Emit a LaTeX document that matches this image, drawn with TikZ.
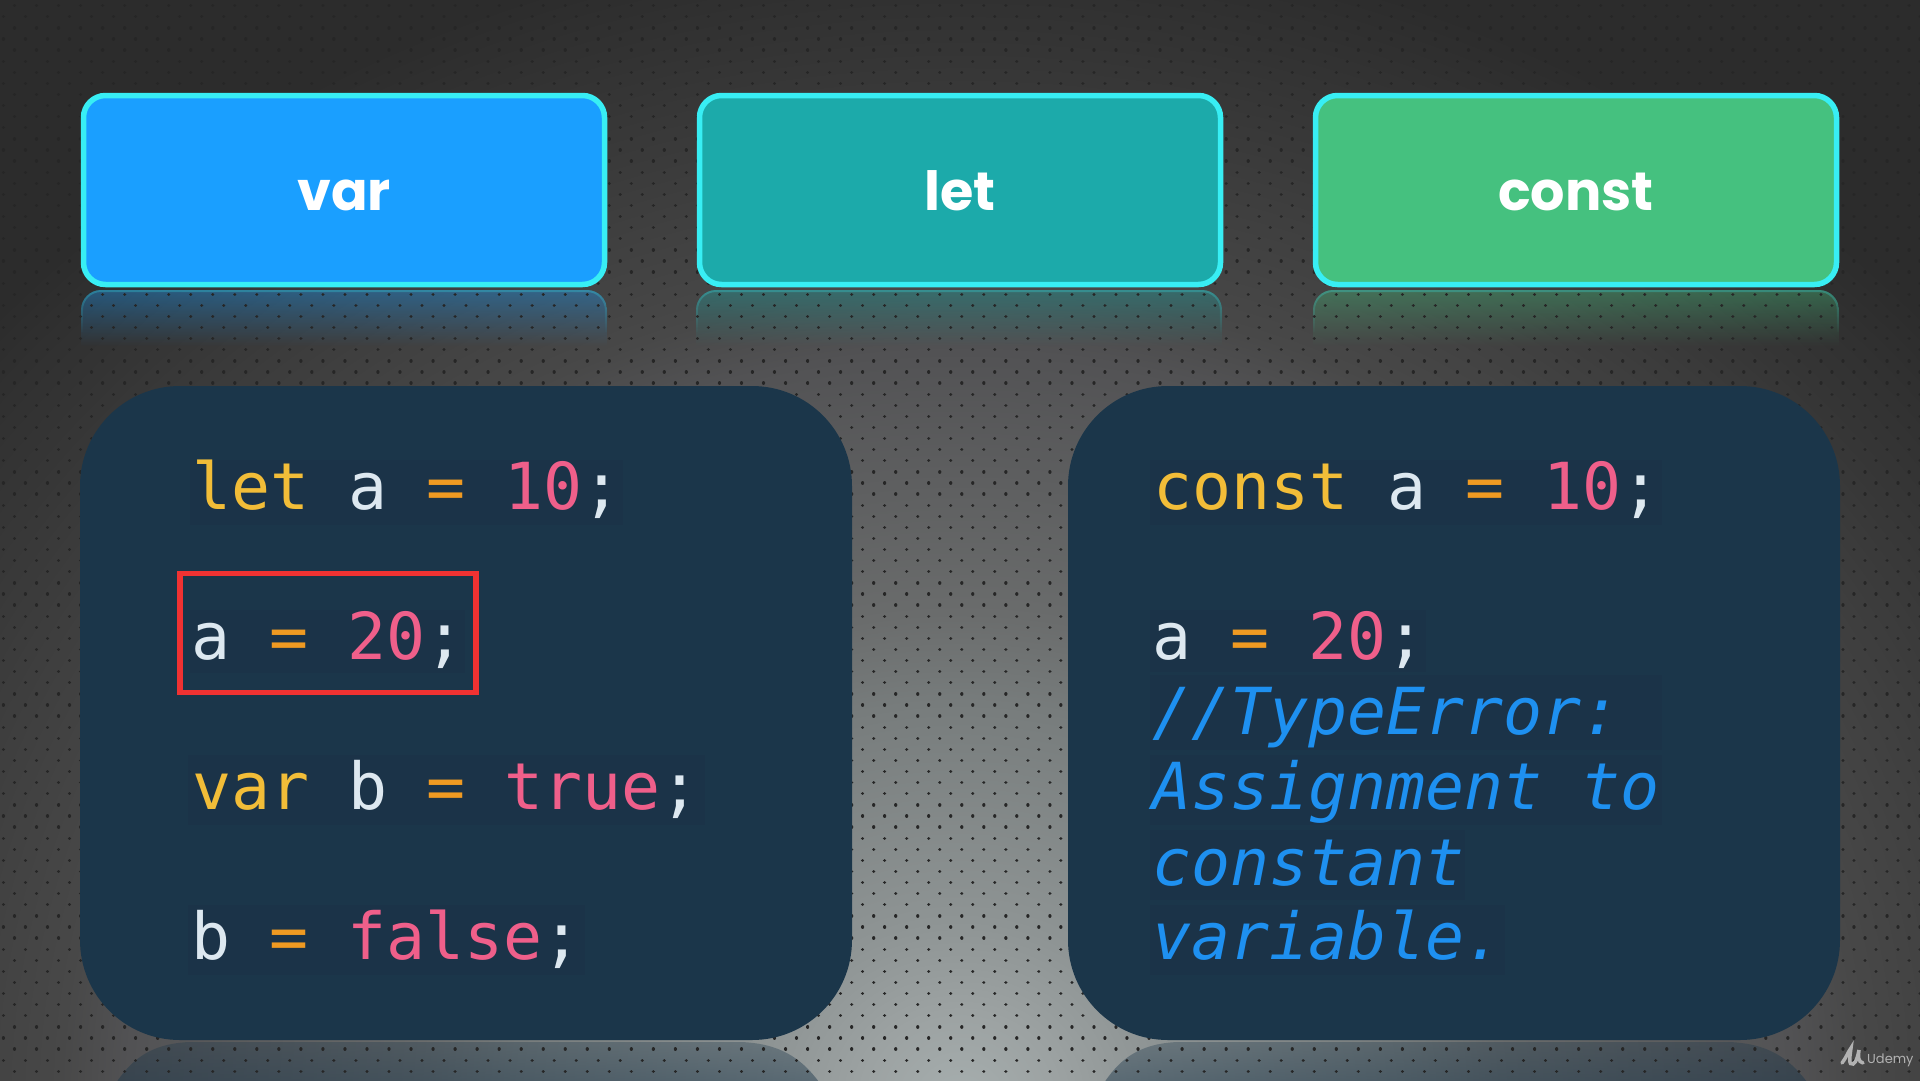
\documentclass[tikz,border=0pt]{standalone}
\usepackage{fontspec}
\usetikzlibrary{fadings}
\setmainfont{Poppins}
\newfontfamily\codefont{DejaVu Sans Mono}
\definecolor{bg0}{HTML}{A6AEAE}
\definecolor{bg1}{HTML}{9CA2A2}
\definecolor{bg2}{HTML}{8E9494}
\definecolor{bg3}{HTML}{777C7C}
\definecolor{bg4}{HTML}{6A6C6C}
\definecolor{bg5}{HTML}{525254}
\definecolor{bg6}{HTML}{484848}
\definecolor{bg7}{HTML}{333333}
\definecolor{bg8}{HTML}{2C2C2C}
\definecolor{panelc}{HTML}{1B364A}
\definecolor{hlc}{HTML}{1B3348}
\definecolor{cyanedge}{HTML}{38EEF4}
\definecolor{varc}{HTML}{1A9FFF}
\definecolor{letc}{HTML}{1CAAAA}
\definecolor{constc}{HTML}{45C17F}
\definecolor{kw}{HTML}{F2BD38}
\definecolor{eqc}{HTML}{EF9A22}
\definecolor{idc}{HTML}{DDE8F0}
\definecolor{numc}{HTML}{EF5F8A}
\definecolor{cmt}{HTML}{1E90F0}
\definecolor{redbox}{HTML}{F03232}
\pgfdeclareradialshading{bgshade}{\pgfpoint{0bp}{0bp}}{color(0bp)=(bg0);color(1.9bp)=(bg1);color(3.85bp)=(bg2);color(8.5bp)=(bg3);color(10.4bp)=(bg4);color(16bp)=(bg5);color(17.3bp)=(bg6);color(23bp)=(bg7);color(25bp)=(bg8);color(50bp)=(bg8)}
\tikzfading[name=boxfade, top color=transparent!62, bottom color=transparent!100]
\tikzfading[name=edgefade, top color=transparent!72, bottom color=transparent!100]
\tikzfading[name=panelfade, top color=transparent!68, bottom color=transparent!45]
\tikzset{
  headbox/.style={draw=cyanedge, line width=5.5pt, rounded corners=22pt, minimum width=521pt, minimum height=189pt, inner sep=0pt, text=white, text height=40pt, text depth=0pt, font=\fontsize{54}{54}\selectfont\bfseries},
  panelbox/.style={fill=panelc, rounded corners=100pt, minimum width=772pt, minimum height=654pt, inner sep=0pt},
  code/.style={anchor=base west, inner sep=0pt, font=\fontsize{64.8}{64.8}\codefont},
  comment/.style={code, text=cmt, font=\fontsize{64.8}{64.8}\codefont\itshape},
  hl/.style={fill=hlc},
  dotrow/.style={black!85, line width=3.3pt, line cap=round, dash pattern=on 0.01pt off 22.02pt}
}
\newcommand{\K}[1]{\textcolor{kw}{#1}}
\newcommand{\E}{\textcolor{eqc}{=}}
\newcommand{\I}[1]{\textcolor{idc}{#1}}
\newcommand{\N}[1]{\textcolor{numc}{#1}}
\begin{document}
\begin{tikzpicture}[x=1pt,y=-1pt]
\useasboundingbox (0,0) rectangle (1920,1080);
\begin{scope}
\clip (0,0) rectangle (1920,1080);
\fill[bg8] (0,0) rectangle (1920,1080);
\shade[shading=bgshade] (960,1100) ellipse [x radius=1300, y radius=1170];
% reflections of the header boxes
\foreach \xa/\col in {81/varc,696/letc,1313/constc}{
  \begin{scope}
    \clip[rounded corners=20pt] (\xa,400) -- (\xa,290) -- (\xa+526,290) -- (\xa+526,400) -- cycle;
    \fill[\col, path fading=boxfade] (\xa,289) rectangle (\xa+526,346);
    \draw[cyanedge, line width=4pt, rounded corners=20pt, path fading=edgefade] (\xa,332) -- (\xa,290) -- (\xa+526,290) -- (\xa+526,332);
  \end{scope}
}
% reflections of the panels
\foreach \xa in {80,1068}{
  \fill[panelc, path fading=panelfade] (\xa+26,1100) .. controls (\xa+44,1068) and (\xa+62,1044) .. (\xa+110,1042) -- (\xa+662,1042) .. controls (\xa+712,1044) and (\xa+732,1068) .. (\xa+752,1100) -- cycle;
}
% dot grid
\foreach \r in {0,...,98}{
  \pgfmathsetmacro{\yy}{-5.4+11.1*\r}
  \pgfmathsetmacro{\off}{mod(\r,2)==1 ? 14.5 : 3.4}
  \draw[dotrow] (\off,\yy) -- (1925,\yy);
}
\end{scope}
% headers
\node[headbox, fill=varc] (var) at (344,190) {var};
\node[headbox, fill=letc] (let) at (960,190) {let};
\node[headbox, fill=constc] (const) at (1576,190) {const};
% panels
\node[panelbox] (left) at (466,713) {};
\node[panelbox] (right) at (1454,713) {};
% highlight strips behind code
\fill[hl] (190,460) rectangle (623,525);
\fill[hl] (190,610) rectangle (465,673);
\fill[hl] (188,755) rectangle (705,825);
\fill[hl] (188,905) rectangle (585,975);
\fill[hl] (1150,460) rectangle (1662,525);
\fill[hl] (1150,610) rectangle (1426,672);
\fill[hl] (1150,675) rectangle (1662,750);
\fill[hl] (1150,755) rectangle (1662,825);
\fill[hl] (1150,830) rectangle (1465,900);
\fill[hl] (1150,905) rectangle (1505,975);
% left code
\node[code] (l1) at (192.5,509.5) {\K{let} \I{a} \E{} \N{10}\I{;}};
\node[code] (l2) at (191.5,659.5) {\I{a} \E{} \N{20}\I{;}};
\node[code] (l3) at (192,809.5) {\K{var} \I{b} \E{} \N{true}\I{;}};
\node[code] (l4) at (191.5,959) {\I{b} \E{} \N{false}\I{;}};
\node[draw=redbox, line width=5.5pt, minimum width=296pt, minimum height=119pt, inner sep=0pt] (mark) at (328,633) {};
% right code
\node[code] (r1) at (1153,509.5) {\K{const} \I{a} \E{} \N{10}\I{;}};
\node[code] (r2) at (1152,659.5) {\I{a} \E{} \N{20}\I{;}};
\node[comment] (r3) at (1152,734) {//TypeError:};
\node[comment] (r4) at (1152,809) {Assignment to};
\node[comment] (r5) at (1152,885) {constant};
\node[comment] (r6) at (1152,959) {variable.};
% watermark
\draw[color=black!30, line width=3.5pt, line cap=round] (1842,1063) .. controls (1846,1058) and (1848,1052) .. (1851,1048) .. controls (1850,1056) and (1848,1066) .. (1853,1064) .. controls (1857,1062) and (1858,1054) .. (1859,1050) .. controls (1858,1056) and (1858,1062) .. (1863,1063);
\node[anchor=base west, inner sep=0pt, text=black!30, font=\fontsize{13}{13}\selectfont] (udemy) at (1867,1063) {Udemy};
\end{tikzpicture}
\end{document}
